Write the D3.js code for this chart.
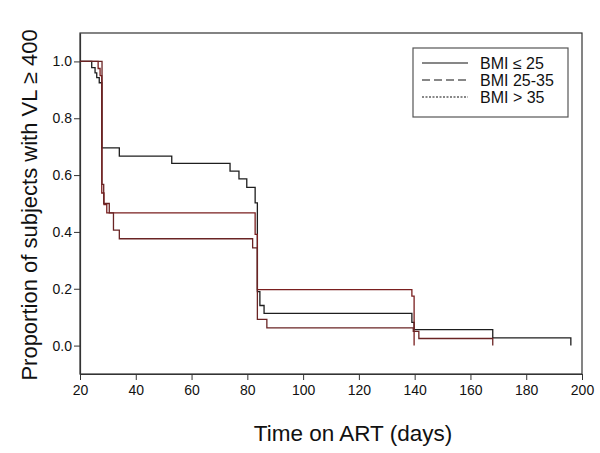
<!DOCTYPE html>
<html>
<head>
<meta charset="utf-8">
<script src="https://cdn.jsdelivr.net/npm/d3@7"></script>
<style>
  body { margin: 0; background: #fff; }
  text { font-family: Arial, "Liberation Sans", sans-serif; fill: #111; }
</style>
</head>
<body>
<div class="chart"></div>
<script>
let groupNames = ['BMI ≤ 25', 'BMI 25-35', 'BMI > 35']
let groupColors = ['#1e1e1e', '#7a1f1f', '#6a2424']
let legendDash = [null, '8,4', '2,1.5']

// event times (days) and survival proportion after each step
let lowTimes = [20, 24.2, 25.4, 26, 26.9, 27.8, 34.1, 52.9, 73.8, 77, 79.8, 82.8, 83.6, 84.5, 86, 139, 139.8, 168, 196]
let lowSurv = [1.0, 0.978, 0.96, 0.943, 0.925, 0.696, 0.667, 0.641, 0.614, 0.587, 0.557, 0.502, 0.19, 0.141, 0.113, 0.082, 0.056, 0.027, 0]
let midTimes = [20, 26.5, 27.2, 27.8, 28.6, 29.6, 82.8, 83.6, 139, 139.8]
let midSurv = [1.0, 0.975, 0.95, 0.537, 0.496, 0.467, 0.391, 0.197, 0.174, 0]
let highTimes = [20, 27.9, 28.5, 30.5, 32, 34.1, 81.9, 83.6, 87, 139.5, 141.5, 168]
let highSurv = [1.0, 0.567, 0.5, 0.467, 0.406, 0.376, 0.344, 0.092, 0.062, 0.05, 0.025, 0]

let xTicks = [20, 40, 60, 80, 100, 120, 140, 160, 180, 200]
let yTicks = [0, 0.2, 0.4, 0.6, 0.8, 1.0]

let series = [
  { name: groupNames[0], times: lowTimes, surv: lowSurv },
  { name: groupNames[1], times: midTimes, surv: midSurv },
  { name: groupNames[2], times: highTimes, surv: highSurv }
]

let width = 600, height = 453
let plotL = 80, plotR = 582, plotT = 33, plotB = 374

let svg = d3.select('.chart').append('svg')
  .attr('width', width)
  .attr('height', height)

let x = d3.scaleLinear().domain([20, 200]).range([plotL, plotR])
let y = d3.scaleLinear().domain([-0.1, 1.1]).range([plotB, plotT])

// frame
svg.append('rect')
  .attr('x', plotL)
  .attr('y', plotT)
  .attr('width', plotR - plotL)
  .attr('height', plotB - plotT)
  .style('fill', 'none')
  .style('stroke', '#333')
  .style('stroke-width', 1.2)

let xAxis = svg.append('g')
  .attr('transform', `translate(0,${plotB})`)
  .call(d3.axisBottom(x).tickValues(xTicks).tickSize(6).tickSizeOuter(0).tickPadding(5))
let yAxis = svg.append('g')
  .attr('transform', `translate(${plotL},0)`)
  .call(d3.axisLeft(y).tickValues(yTicks).tickFormat(d3.format('.1f')).tickSize(6).tickSizeOuter(0).tickPadding(2))

;[xAxis, yAxis].forEach(ax => {
  ax.select('.domain').style('stroke', '#333').style('stroke-width', 1.2)
  ax.selectAll('.tick line').style('stroke', '#333')
  ax.selectAll('.tick text').style('font-size', '14px').style('fill', '#111')
})

let line = d3.line()
  .x(d => x(d[0]))
  .y(d => y(d[1]))
  .curve(d3.curveStepAfter)

svg.append('g').selectAll('path')
  .data(series)
  .enter()
  .append('path')
  .attr('d', d => line(d.times.map((t, i) => [t, d.surv[i]])))
  .style('fill', 'none')
  .style('stroke', (d, i) => groupColors[i])
  .style('stroke-width', 1.3)

svg.append('text')
  .attr('x', 353)
  .attr('y', 441)
  .attr('text-anchor', 'middle')
  .style('font-size', '22.5px')
  .text('Time on ART (days)')

svg.append('text')
  .attr('transform', 'translate(37,205) rotate(-90)')
  .attr('text-anchor', 'middle')
  .style('font-size', '22px')
  .text('Proportion of subjects with VL ≥ 400')

// legend
let legend = svg.append('g')
legend.append('rect')
  .attr('x', 413)
  .attr('y', 48)
  .attr('width', 155)
  .attr('height', 69)
  .style('fill', '#fff')
  .style('stroke', '#555')
  .style('stroke-width', 1.2)

let rows = legend.selectAll('g')
  .data(groupNames)
  .enter()
  .append('g')
  .attr('transform', (d, i) => `translate(0,${63 + i * 17})`)
rows.append('line')
  .attr('x1', 422)
  .attr('x2', 468)
  .style('stroke', '#111')
  .style('stroke-width', 1.2)
  .style('stroke-dasharray', (d, i) => legendDash[i])
rows.append('text')
  .attr('x', 480)
  .attr('dy', '0.35em')
  .style('font-size', '16px')
  .text(d => d)
</script>
</body>
</html>
